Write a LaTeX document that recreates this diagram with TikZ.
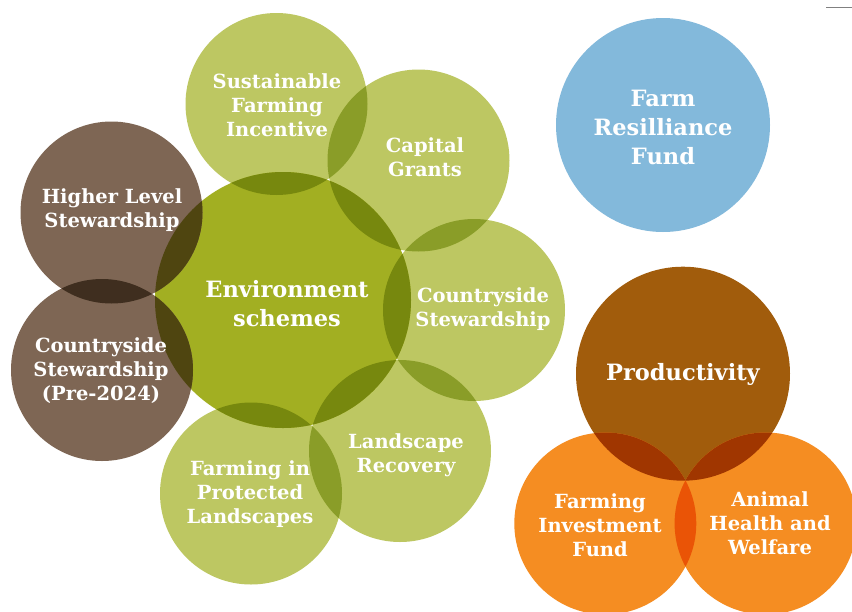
\documentclass[tikz,border=0pt]{standalone}
\usepackage{fontspec}
\setmainfont{DejaVu Serif}
\begin{document}
\begin{tikzpicture}[x=1pt,y=-1pt,
  lab/.style={text=white,font=\bfseries\fontsize{19.5}{24}\selectfont,align=center,inner sep=0pt},
  biglab/.style={text=white,font=\bfseries\fontsize{22.5}{29}\selectfont,align=center,inner sep=0pt}]
\definecolor{lg}{HTML}{BDC762}
\definecolor{env}{HTML}{A2AF22}
\definecolor{envov}{HTML}{77880E}
\definecolor{lgov}{HTML}{8A9D28}
\definecolor{brn}{HTML}{7E6654}
\definecolor{brnov}{HTML}{3F2E1F}
\definecolor{envbrn}{HTML}{4F4510}
\definecolor{blu}{HTML}{83B9DB}
\definecolor{prod}{HTML}{A15C0C}
\definecolor{org}{HTML}{F58D22}
\definecolor{prodov}{HTML}{A03600}
\definecolor{orgov}{HTML}{EA5406}
\useasboundingbox (0,0) rectangle (852,611);
\fill[white] (0,0) rectangle (852,611);
% centres
\coordinate (sfi) at (276.5,104);
\coordinate (cg) at (418.5,160.5);
\coordinate (env) at (283,300);
\coordinate (csr) at (474,310);
\coordinate (lr) at (400,451);
\coordinate (fipl) at (251,493.5);
\coordinate (hls) at (111.5,212.5);
\coordinate (csp) at (102,370);
\coordinate (frf) at (663,125);
\coordinate (prd) at (683,373.7);
\coordinate (fif) at (605.3,523.5);
\coordinate (ahw) at (765.6,523.5);
\def\rs{91}
\def\re{128}
\def\rb{107}
% base circles
\foreach \c in {sfi,cg,csr,lr,fipl} \fill[lg] (\c) circle (\rs);
\fill[env] (env) circle (\re);
\foreach \c in {hls,csp} \fill[brn] (\c) circle (\rs);
\fill[blu] (frf) circle (\rb);
\fill[prod] (prd) circle (\rb);
\foreach \c in {fif,ahw} \fill[org] (\c) circle (\rs);
% overlaps light-light
\begin{scope}\clip (sfi) circle (\rs); \fill[lgov] (cg) circle (\rs);\end{scope}
\begin{scope}\clip (cg) circle (\rs); \fill[lgov] (csr) circle (\rs);\end{scope}
\begin{scope}\clip (csr) circle (\rs); \fill[lgov] (lr) circle (\rs);\end{scope}
\begin{scope}\clip (lr) circle (\rs); \fill[lgov] (fipl) circle (\rs);\end{scope}
% env overlaps
\foreach \c in {sfi,cg,csr,lr,fipl}{
\begin{scope}\clip (env) circle (\re); \fill[envov] (\c) circle (\rs);\end{scope}}
\foreach \c in {hls,csp}{
\begin{scope}\clip (env) circle (\re); \fill[envbrn] (\c) circle (\rs);\end{scope}}
\begin{scope}\clip (hls) circle (\rs); \fill[brnov] (csp) circle (\rs);\end{scope}
% productivity overlaps
\foreach \c in {fif,ahw}{
\begin{scope}\clip (prd) circle (\rb); \fill[prodov] (\c) circle (\rs);\end{scope}}
\begin{scope}\clip (fif) circle (\rs); \fill[orgov] (ahw) circle (\rs);\end{scope}
% labels
\node[lab] (tsfi) at (277,105) {Sustainable\\Farming\\Incentive};
\node[lab] (tcg) at (425,157) {Capital\\Grants};
\node[biglab] (tenv) at (287,304) {Environment\\schemes};
\node[lab] (tcsr) at (483,309) {Countryside\\Stewardship};
\node[lab] (tlr) at (406,455) {Landscape\\Recovery};
\node[lab] (tfipl) at (250,494) {Farming in\\Protected\\Landscapes};
\node[lab] (thls) at (112,210) {Higher Level\\Stewardship};
\node[lab] (tcsp) at (101,371) {Countryside\\Stewardship\\(Pre-2024)};
\node[biglab] (tfrf) at (663,127) {Farm\\Resilliance\\Fund};
\node[biglab] (tprd) at (683,374) {Productivity};
\node[lab] (tfif) at (600,525) {Farming\\Investment\\Fund};
\node[lab] (tahw) at (770,523) {Animal\\Health and\\Welfare};
\coordinate (la) at (826,7.5);
\coordinate (lb) at (852,7.5);
\draw[gray,line width=1.2pt] (la) -- (lb);
\end{tikzpicture}
\end{document}
